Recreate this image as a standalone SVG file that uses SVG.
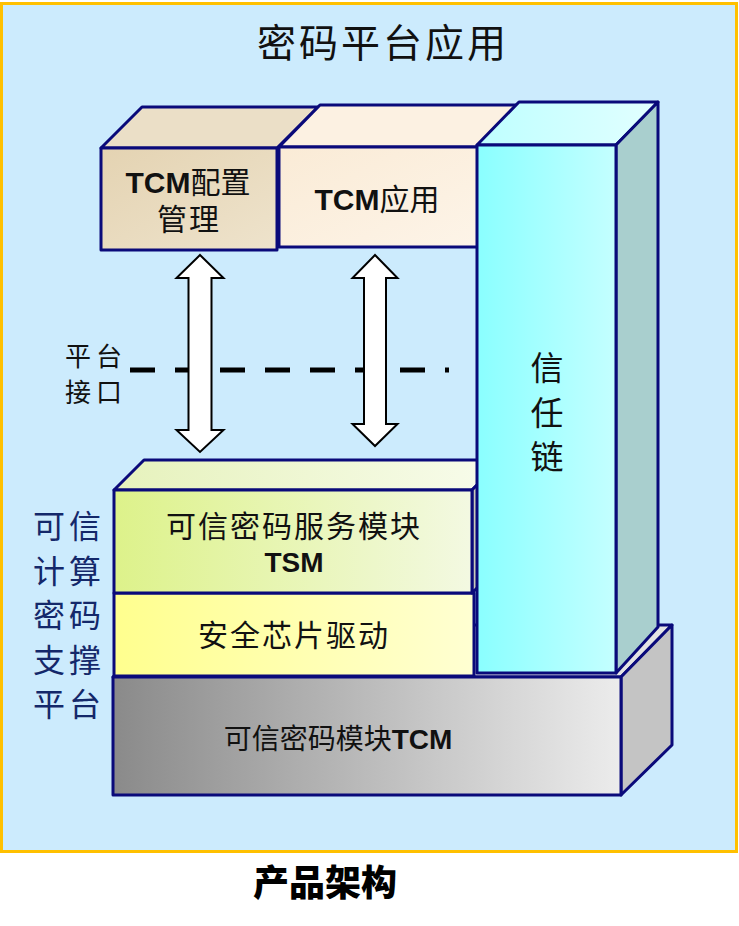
<svg xmlns="http://www.w3.org/2000/svg" width="739" height="926" viewBox="0 0 739 926">
<defs>
<linearGradient id="gTsm" x1="0" x2="1" y1="0" y2="0"><stop offset="0" stop-color="#DDF28A"/><stop offset="1" stop-color="#F3F9E2"/></linearGradient>
<linearGradient id="gTsmTop" x1="0" x2="1" y1="0" y2="0"><stop offset="0" stop-color="#E6F2BC"/><stop offset="1" stop-color="#F8FCEC"/></linearGradient>
<linearGradient id="gDrv" x1="0" x2="1" y1="0" y2="0"><stop offset="0" stop-color="#FFFF8E"/><stop offset="1" stop-color="#FFFFD2"/></linearGradient>
<linearGradient id="gBase" x1="0" x2="1" y1="0" y2="0"><stop offset="0" stop-color="#8A8A8A"/><stop offset="1" stop-color="#ECECEC"/></linearGradient>
<linearGradient id="gPil" x1="0" x2="1" y1="0" y2="0"><stop offset="0" stop-color="#8AFFFF"/><stop offset="1" stop-color="#C4FFFF"/></linearGradient>
<linearGradient id="gPilTop" x1="0" x2="1" y1="0" y2="0"><stop offset="0" stop-color="#BEFFFF"/><stop offset="1" stop-color="#E2FFFF"/></linearGradient>
<linearGradient id="gB1" x1="0" x2="1" y1="0" y2="1"><stop offset="0" stop-color="#E4D3B2"/><stop offset="1" stop-color="#EEE3CC"/></linearGradient>
<linearGradient id="gB2" x1="0" x2="1" y1="0" y2="1"><stop offset="0" stop-color="#FAEBD6"/><stop offset="1" stop-color="#FDF4E8"/></linearGradient>
</defs>
<style>
.box{stroke:#0A0A7A;stroke-width:3;stroke-linejoin:round}
.cjk{font-family:"Noto Sans CJK SC","Liberation Sans",sans-serif;fill:#111}
.lat{font-family:"Liberation Sans","Noto Sans CJK SC",sans-serif;font-weight:bold}
.arrow{fill:#FFFFFF;stroke:#000;stroke-width:2;stroke-linejoin:miter}
.side{font-family:"Noto Sans CJK SC",sans-serif;fill:#14286A;font-size:32px;letter-spacing:4px}
</style>

<g id="frame">
<rect x="1.5" y="3.5" width="735" height="848" fill="#CCEBFD" stroke="#FFC000" stroke-width="3"/>
<text class="cjk" x="383" y="57" font-size="39" text-anchor="middle" letter-spacing="3">密码平台应用</text>
</g>

<g id="base-tcm">
<polygon class="box" points="113,677 164,625 672,625 621,677" fill="#E4E4E4"/>
<polygon class="box" points="621,677 672,625 672,745 621,795" fill="#C4C4C4"/>
<rect class="box" x="113" y="677" width="508" height="118" fill="url(#gBase)"/>
<text class="cjk" x="338" y="749" font-size="28" text-anchor="middle">可信密码模块<tspan class="lat">TCM</tspan></text>
</g>

<g id="driver">
<rect class="box" x="114" y="593" width="360" height="83" fill="url(#gDrv)"/>
<text class="cjk" x="294" y="646" font-size="30" text-anchor="middle" letter-spacing="2">安全芯片驱动</text>
</g>

<g id="tsm">
<polygon class="box" points="114,490 144,460 502,460 472,490" fill="url(#gTsmTop)"/>
<polygon class="box" points="472,490 502,460 502,563 472,593" fill="#C8CCB8"/>
<rect class="box" x="114" y="490" width="358" height="103" fill="url(#gTsm)"/>
<text class="cjk" x="294" y="537" font-size="30" text-anchor="middle" letter-spacing="2">可信密码服务模块</text>
<text class="lat" x="294" y="572" font-size="28" text-anchor="middle" fill="#111">TSM</text>
</g>

<g id="tcm-config">
<polygon class="box" points="101,148 142,107 318,107 277,148" fill="#EBDFC7"/>
<rect class="box" x="101" y="148" width="176" height="102" fill="url(#gB1)"/>
<text class="cjk" x="188" y="193" font-size="30" text-anchor="middle"><tspan class="lat">TCM</tspan>配置</text>
<text class="cjk" x="189" y="230" font-size="30" text-anchor="middle" letter-spacing="2">管理</text>
</g>

<g id="tcm-app">
<polygon class="box" points="279,147 320,105 520,105 478,147" fill="#FCF1E2"/>
<rect class="box" x="279" y="147" width="199" height="100" fill="url(#gB2)"/>
<text class="cjk" x="377" y="210" font-size="30" text-anchor="middle"><tspan class="lat">TCM</tspan>应用</text>
</g>

<g id="trust-chain">
<polygon class="box" points="477,145 519,102 658,102 616,145" fill="url(#gPilTop)"/>
<polygon class="box" points="616,145 658,102 658,627 616,673" fill="#A9CFCE"/>
<rect class="box" x="477" y="145" width="139" height="528" fill="url(#gPil)"/>
<text class="cjk" x="547" y="380" font-size="33" text-anchor="middle">信</text>
<text class="cjk" x="547" y="425" font-size="33" text-anchor="middle">任</text>
<text class="cjk" x="547" y="469" font-size="33" text-anchor="middle">链</text>
</g>

<g id="platform-interface">
<text class="cjk" x="65" y="366" font-size="26" letter-spacing="5">平台</text>
<text class="cjk" x="65" y="402" font-size="26" letter-spacing="5">接口</text>
</g>

<g id="support-platform">
<text class="side" x="33" y="538">可信</text>
<text class="side" x="33" y="583">计算</text>
<text class="side" x="33" y="627">密码</text>
<text class="side" x="33" y="672">支撑</text>
<text class="side" x="33" y="716">平台</text>
</g>

<g id="connectors">
<line x1="130" y1="370" x2="449" y2="370" stroke="#000" stroke-width="5" stroke-dasharray="25 20"/>
<path class="arrow" d="M200,255 L223.5,278 L211.5,278 L211.5,430 L223.5,430 L200,452 L176.5,430 L188.5,430 L188.5,278 L176.5,278 Z"/>
<path class="arrow" d="M375,255 L397.5,278 L386,278 L386,424 L397.5,424 L375,446 L352.5,424 L364,424 L364,278 L352.5,278 Z"/>
</g>

<g id="caption">
<text x="325" y="896" font-family="'Noto Sans CJK SC',sans-serif" font-weight="900" font-size="36" text-anchor="middle" fill="#000">产品架构</text>
</g>
</svg>
